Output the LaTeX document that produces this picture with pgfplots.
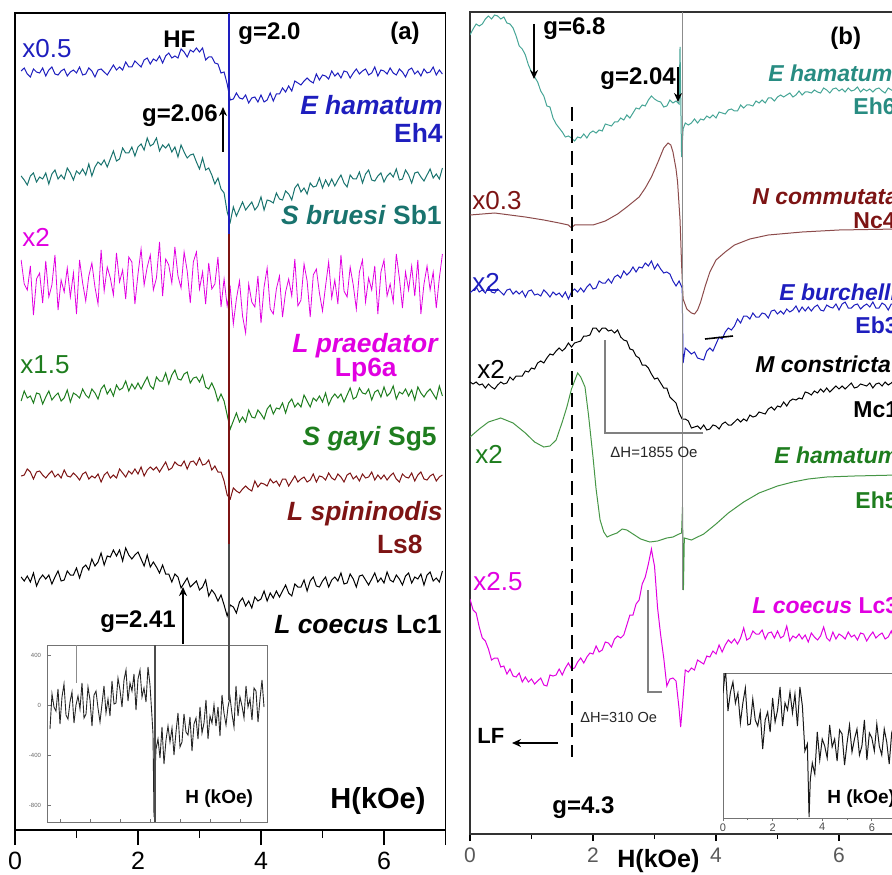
\documentclass[border=0pt]{standalone}
\usepackage{pgfplots}
\pgfplotsset{compat=1.18}
\usepackage{fontspec}
\setmainfont{Liberation Sans}
\usetikzlibrary{arrows.meta}
\definecolor{cblue}{RGB}{30,30,190}
\definecolor{cteal}{RGB}{25,115,110}
\definecolor{cteal2}{RGB}{70,165,150}
\definecolor{ctealL}{RGB}{40,140,130}
\definecolor{cmag}{RGB}{225,0,225}
\definecolor{cgreen}{RGB}{30,125,30}
\definecolor{cgreen2}{RGB}{70,150,70}
\definecolor{cdred}{RGB}{125,20,20}
\definecolor{cbrown}{RGB}{140,75,75}
\newcommand{\fs}[1]{\fontsize{#1}{#1}\selectfont}
\pgfplotsset{
 panel/.style={anchor=south west, scale only axis, width=215.25pt, xmin=0, xmax=140,
  ytick=\empty, xtick pos=left, tick align=outside,
  minor xtick={20,60,100}, every tick/.style={black, line width=0.8pt}},
 tr/.style={line width=0.5pt, mark=none}
}
\tikzset{lspA/.style={inner sep=0pt, font=\fs{13.2}\bfseries\itshape},
         lidA/.style={inner sep=0pt, font=\fs{13.2}\bfseries},
         lspB/.style={inner sep=0pt, font=\fs{11.5}\bfseries\itshape},
         lidB/.style={inner sep=0pt, font=\fs{11.5}\bfseries},
         lmul/.style={inner sep=0pt, font=\fs{13}},
         lgl/.style={inner sep=0pt, font=\fs{12}\bfseries},
         larr/.style={line width=0.9pt, -{Stealth[length=4.5pt,width=4pt]}}}
\begin{document}
\begin{tikzpicture}
\useasboundingbox (0,0) rectangle (446pt,437pt);
\clip (0,0) rectangle (446pt,437pt);
% ---------------- panel (a)
\begin{axis}[panel, at={(7.5pt,22pt)}, height=408.5pt, ymin=44, ymax=861,
  axis line style={line width=0.8pt},
  xtick={0,40,80,120,140}, xticklabels={0,2,4,6,{}},
  major tick length=7.5pt, minor tick length=4pt,
  xticklabel style={font=\fs{12.5}}]
\addplot[tr, cblue] coordinates {(2,803)(3,806)(4,800)(5,797)(6,805)(7,802)(8,801)(9,806)(10,798)(11,804)(12,807)(13,800)(14,799)(15,803)(16,805)(17,798)(18,802)(19,804)(20,801)(21,807)(22,799)(23,800)(24,806)(25,803)(26,797)(27,804)(28,805)(29,802)(30,799)(31,804)(32,809)(33,804)(34,807)(35,804)(36,812)(37,807)(38,807)(39,813)(40,810)(41,807)(42,814)(43,816)(44,810)(45,815)(46,813)(47,818)(48,811)(49,818)(50,821)(51,816)(52,818)(53,816)(54,825)(55,822)(56,817)(57,824)(58,822)(59,826)(60,822)(61,826)(62,814)(63,817)(64,817)(65,811)(66,810)(67,801)(68,802)(69,790)(70,774)(71,775)(72,781)(73,776)(74,775)(75,779)(76,771)(77,776)(78,777)(79,772)(80,779)(81,772)(82,774)(83,781)(84,773)(85,780)(86,780)(87,786)(88,782)(89,788)(90,783)(91,793)(92,791)(93,789)(94,793)(95,796)(96,793)(97,791)(98,800)(99,794)(100,799)(101,798)(102,795)(103,803)(104,798)(105,801)(106,796)(107,803)(108,802)(109,796)(110,801)(111,805)(112,800)(113,803)(114,805)(115,799)(116,801)(117,807)(118,798)(119,804)(120,803)(121,800)(122,806)(123,801)(124,799)(125,805)(126,802)(127,797)(128,804)(129,806)(130,800)(131,803)(132,798)(133,805)(134,801)(135,802)(136,807)(137,799)(138,804)(139,800)};
\addplot[tr, cteal] coordinates {(2,698)(3,694)(4,689)(5,698)(6,701)(7,692)(8,697)(9,695)(10,701)(11,690)(12,700)(13,704)(14,695)(15,699)(16,695)(17,706)(18,701)(19,694)(20,703)(21,700)(22,705)(23,699)(24,710)(25,698)(26,707)(27,712)(28,709)(29,714)(30,707)(31,715)(32,723)(33,713)(34,715)(35,726)(36,721)(37,721)(38,727)(39,718)(40,727)(41,730)(42,724)(43,736)(44,728)(45,730)(46,736)(47,723)(48,729)(49,726)(50,730)(51,722)(52,727)(53,717)(54,729)(55,722)(56,716)(57,719)(58,720)(59,712)(60,705)(61,716)(62,704)(63,706)(64,699)(65,690)(66,696)(67,685)(68,681)(69,662)(70,652)(71,667)(72,658)(73,665)(74,672)(75,664)(76,668)(77,672)(78,664)(79,668)(80,677)(81,664)(82,674)(83,673)(84,671)(85,681)(86,675)(87,674)(88,683)(89,680)(90,674)(91,686)(92,690)(93,682)(94,686)(95,680)(96,691)(97,687)(98,688)(99,696)(100,686)(101,694)(102,688)(103,695)(104,688)(105,694)(106,699)(107,691)(108,687)(109,699)(110,695)(111,695)(112,702)(113,691)(114,700)(115,704)(116,694)(117,693)(118,698)(119,701)(120,692)(121,698)(122,701)(123,697)(124,705)(125,694)(126,695)(127,704)(128,699)(129,691)(130,701)(131,702)(132,697)(133,693)(134,699)(135,705)(136,696)(137,700)(138,695)(139,706)};
\addplot[line width=0.4pt, cmag] coordinates {(2,614)(3,590)(4,584)(5,608)(6,559)(7,595)(8,601)(9,571)(10,613)(11,577)(12,589)(13,619)(14,564)(15,594)(16,582)(17,606)(18,577)(19,601)(20,560)(21,614)(22,591)(23,573)(24,598)(25,611)(26,587)(27,570)(28,624)(29,583)(30,607)(31,596)(32,579)(33,621)(34,592)(35,604)(36,575)(37,617)(38,612)(39,570)(40,600)(41,625)(42,589)(43,607)(44,619)(45,584)(46,596)(47,632)(48,578)(49,615)(50,609)(51,591)(52,627)(53,598)(54,586)(55,622)(56,603)(57,571)(58,612)(59,622)(60,585)(61,602)(62,570)(63,611)(64,585)(65,590)(66,617)(67,567)(68,595)(69,568)(70,586)(71,550)(72,575)(73,593)(74,558)(75,541)(76,590)(77,572)(78,567)(79,598)(80,551)(81,587)(82,606)(83,565)(84,560)(85,585)(86,598)(87,557)(88,582)(89,595)(90,578)(91,615)(92,568)(93,574)(94,610)(95,593)(96,557)(97,599)(98,605)(99,581)(100,563)(101,588)(102,612)(103,576)(104,594)(105,570)(106,619)(107,583)(108,577)(109,607)(110,589)(111,565)(112,602)(113,614)(114,572)(115,596)(116,584)(117,608)(118,560)(119,602)(120,614)(121,578)(122,590)(123,572)(124,620)(125,596)(126,566)(127,602)(128,584)(129,608)(130,578)(131,614)(132,560)(133,590)(134,608)(135,584)(136,602)(137,566)(138,596)(139,620)};
\addplot[tr, cgreen] coordinates {(2,473)(3,483)(4,476)(5,478)(6,471)(7,481)(8,480)(9,470)(10,477)(11,483)(12,474)(13,478)(14,481)(15,473)(16,476)(17,484)(18,472)(19,481)(20,479)(21,476)(22,485)(23,479)(24,476)(25,485)(26,481)(27,475)(28,485)(29,489)(30,480)(31,485)(32,478)(33,489)(34,484)(35,486)(36,493)(37,483)(38,490)(39,485)(40,491)(41,485)(42,491)(43,497)(44,488)(45,485)(46,497)(47,493)(48,493)(49,501)(50,490)(51,499)(52,504)(53,495)(54,494)(55,500)(56,502)(57,491)(58,496)(59,497)(60,492)(61,499)(62,487)(63,485)(64,491)(65,484)(66,473)(67,480)(68,473)(69,459)(70,445)(71,453)(72,461)(73,452)(74,457)(75,452)(76,464)(77,457)(78,456)(79,464)(80,460)(81,455)(82,465)(83,469)(84,460)(85,466)(86,465)(87,471)(88,461)(89,471)(90,475)(91,467)(92,471)(93,467)(94,479)(95,473)(96,467)(97,476)(98,473)(99,478)(100,472)(101,481)(102,469)(103,476)(104,480)(105,476)(106,480)(107,472)(108,479)(109,486)(110,475)(111,477)(112,486)(113,481)(114,480)(115,485)(116,474)(117,482)(118,484)(119,477)(120,487)(121,478)(122,481)(123,488)(124,475)(125,482)(126,480)(127,485)(128,478)(129,484)(130,474)(131,487)(132,481)(133,477)(134,482)(135,485)(136,480)(137,475)(138,488)(139,478)};
\addplot[tr, cdred] coordinates {(2,398)(3,399)(4,405)(5,402)(6,395)(7,402)(8,403)(9,399)(10,396)(11,400)(12,403)(13,397)(14,400)(15,396)(16,404)(17,398)(18,397)(19,401)(20,398)(21,394)(22,400)(23,402)(24,395)(25,398)(26,396)(27,400)(28,392)(29,399)(30,402)(31,396)(32,399)(33,396)(34,405)(35,401)(36,397)(37,403)(38,400)(39,405)(40,400)(41,407)(42,398)(43,404)(44,407)(45,404)(46,407)(47,402)(48,407)(49,412)(50,404)(51,406)(52,412)(53,409)(54,408)(55,413)(56,405)(57,412)(58,413)(59,409)(60,416)(61,409)(62,410)(63,414)(64,404)(65,408)(66,402)(67,402)(68,393)(69,379)(70,375)(71,386)(72,383)(73,381)(74,385)(75,388)(76,385)(77,383)(78,393)(79,387)(80,391)(81,390)(82,388)(83,395)(84,391)(85,393)(86,388)(87,395)(88,395)(89,388)(90,393)(91,398)(92,392)(93,395)(94,397)(95,392)(96,394)(97,400)(98,392)(99,398)(100,397)(101,394)(102,401)(103,396)(104,394)(105,400)(106,397)(107,392)(108,399)(109,401)(110,395)(111,398)(112,393)(113,400)(114,396)(115,397)(116,402)(117,394)(118,399)(119,395)(120,399)(121,394)(122,398)(123,401)(124,395)(125,392)(126,400)(127,397)(128,396)(129,401)(130,393)(131,399)(132,402)(133,395)(134,394)(135,398)(136,400)(137,393)(138,397)(139,399)};
\addplot[tr, black] coordinates {(2,297)(3,293)(4,298)(5,292)(6,301)(7,288)(8,295)(9,299)(10,295)(11,299)(12,290)(13,297)(14,303)(15,293)(16,294)(17,303)(18,299)(19,299)(20,306)(21,296)(22,306)(23,309)(24,304)(25,315)(26,308)(27,312)(28,321)(29,309)(30,318)(31,317)(32,324)(33,318)(34,324)(35,313)(36,326)(37,319)(38,315)(39,319)(40,322)(41,315)(42,308)(43,319)(44,307)(45,312)(46,307)(47,301)(48,309)(49,300)(50,300)(51,292)(52,300)(53,297)(54,286)(55,291)(56,296)(57,287)(58,290)(59,293)(60,284)(61,287)(62,294)(63,278)(64,284)(65,280)(66,273)(67,279)(68,269)(69,258)(70,269)(71,267)(72,261)(73,272)(74,276)(75,268)(76,273)(77,266)(78,277)(79,273)(80,275)(81,283)(82,273)(83,281)(84,276)(85,283)(86,277)(87,283)(88,289)(89,281)(90,278)(91,290)(92,287)(93,287)(94,294)(95,283)(96,293)(97,297)(98,288)(99,287)(100,293)(101,297)(102,287)(103,294)(104,297)(105,293)(106,301)(107,290)(108,291)(109,300)(110,295)(111,287)(112,298)(113,299)(114,294)(115,289)(116,295)(117,301)(118,292)(119,296)(120,291)(121,302)(122,294)(123,292)(124,299)(125,295)(126,289)(127,298)(128,301)(129,291)(130,297)(131,295)(132,300)(133,289)(134,299)(135,302)(136,293)(137,296)(138,292)(139,303)};
\end{axis}
% ---------------- inset (a)
\begin{axis}[at={(24pt,26pt)}, anchor=south west, scale only axis, width=109.5pt, height=88.5pt,
  xmin=48, xmax=267, ymin=52, ymax=229, axis line style={black!55, line width=0.5pt},
  axis background/.style={fill=white},
  xtick={60,90,...,240}, xticklabels={}, ytick={69,119,169,219}, yticklabels={-800,-400,0,400},
  yticklabel style={font=\fs{3}, text=black!60}, tick align=inside, major tick length=1.5pt,
  every tick/.style={black!55}, xtick pos=left, ytick pos=left]
\addplot[line width=0.45pt, black!85] coordinates {(50,145)(52,180)(54,167)(56,163)(58,185)(60,150)(62,177)(64,190)(66,159)(68,155)(70,172)(72,182)(74,151)(76,169)(78,178)(80,165)(82,191)(84,156)(86,160)(88,187)(90,174)(92,148)(94,179)(96,183)(98,166)(100,152)(102,170)(104,188)(106,161)(108,175)(110,158)(112,193)(114,170)(116,171)(118,196)(120,184)(122,167)(124,194)(126,204)(128,173)(130,191)(132,183)(134,200)(136,164)(138,195)(140,204)(142,177)(144,186)(146,172)(148,207)(150,189)(152,157)(153,140)(154,57)(155,100)(156,125)(158,135)(160,116)(162,147)(164,110)(166,134)(168,148)(170,132)(172,146)(174,119)(176,142)(178,161)(180,127)(182,132)(184,160)(186,142)(188,139)(190,157)(192,123)(194,150)(196,156)(198,135)(200,167)(202,141)(204,151)(206,174)(208,135)(210,158)(212,151)(214,169)(216,148)(218,167)(220,138)(222,179)(224,161)(226,149)(228,167)(230,177)(232,160)(234,147)(236,188)(238,158)(240,177)(242,168)(244,156)(246,188)(248,167)(250,175)(252,154)(254,186)(256,183)(258,152)(260,175)(262,194)(264,167)};
\end{axis}
% ---------------- panel (b)
\begin{axis}[panel, at={(235pt,20pt)}, height=411pt, ymin=40, ymax=862,
  axis line style={line width=0.8pt, black!80},
  xtick={0,40,80,120}, xticklabels={0,2,4,6},
  major tick length=3.5pt, minor tick length=2.5pt,
  xticklabel style={font=\fs{10.5}, text=black!65}]
\addplot[tr, cteal2] coordinates {(0,839)(1,845)(2,850)(3,848)(4,850)(5,855)(6,858)(7,855)(8,859)(9,858)(10,855)(11,857)(12,851)(13,850)(14,846)(15,838)(16,828)(17,825)(18,819)(19,809)(20,802)(21,797)(22,792)(23,783)(24,778)(25,768)(26,767)(27,756)(28,750)(29,746)(30,742)(31,737)(32,738)(33,736)(34,733)(35,737)(36,736)(37,740)(38,736)(39,741)(40,743)(41,741)(42,744)(43,743)(44,750)(45,749)(46,748)(47,752)(48,752)(49,756)(50,754)(51,759)(52,756)(53,761)(54,766)(55,765)(56,769)(57,768)(58,774)(59,778)(60,775)(61,773)(62,772)(63,767)(64,768)(65,774)(66,771)(67,773)(68,770)(68.3,827)(68.8,717)(69.3,745)(70,751)(71,749)(72,751)(73,755)(74,751)(75,755)(76,754)(77,758)(78,756)(79,759)(80,756)(81,762)(82,761)(83,760)(84,764)(85,765)(86,763)(87,763)(88,769)(89,766)(90,769)(91,769)(92,768)(93,773)(94,771)(95,774)(96,771)(97,776)(98,776)(99,773)(100,777)(101,779)(102,777)(103,779)(104,781)(105,777)(106,779)(107,783)(108,779)(109,782)(110,782)(111,781)(112,784)(113,782)(114,781)(115,786)(116,784)(117,781)(118,785)(119,786)(120,783)(121,785)(122,782)(123,786)(124,783)(125,784)(126,787)(127,782)(128,785)(129,783)(130,785)(131,782)(132,785)(133,786)(134,783)(135,781)(136,786)(137,784)(138,783)(139,786)};
\addplot[tr, cbrown] coordinates {(0,659)(4,660)(8,661)(13,659)(18,657)(24,654)(29,651)(32,649)(33,646)(34,649)(37,649)(40,649)(44,653)(48,660)(51,667)(55,677)(57,686)(59,697)(61,711)(63,726)(64.4,731)(65.3,729)(66,722)(67,705)(67.5,692)(68.3,654)(68.8,610)(69.3,575)(70.5,565)(72,561)(73,560)(74,564)(75,572)(76.5,588)(78,602)(80,614)(83,622)(86,629)(91,635)(97,639)(108,642)(120,644)(139,645)};
\addplot[tr, cblue] coordinates {(0,581)(1,584)(2,587)(3,582)(4,584)(5,581)(6,587)(7,582)(8,581)(9,585)(10,582)(11,579)(12,584)(13,585)(14,580)(15,583)(16,580)(17,583)(18,577)(19,583)(20,584)(21,579)(22,580)(23,578)(24,584)(25,581)(26,577)(27,582)(28,579)(29,581)(30,577)(31,582)(32,575)(33,582)(34,585)(35,582)(36,586)(37,582)(38,587)(39,590)(40,585)(41,586)(42,593)(43,591)(44,591)(45,595)(46,591)(47,597)(48,599)(49,596)(50,603)(51,599)(52,602)(53,607)(54,602)(55,607)(56,606)(57,611)(58,608)(59,613)(60,605)(61,610)(62,605)(63,601)(64,602)(65,600)(66,593)(67,588)(68,593)(69,586)(69.3,511)(70,526)(71,523)(72,520)(73,522)(74,516)(75,515)(76,514)(77,523)(78,526)(79,523)(80,530)(81,537)(82,535)(83,542)(84,546)(85,544)(86,548)(87,555)(88,551)(89,558)(90,558)(91,555)(92,561)(93,557)(94,557)(95,561)(96,560)(97,556)(98,563)(99,564)(100,560)(101,563)(102,560)(103,565)(104,562)(105,564)(106,568)(107,562)(108,567)(109,563)(110,567)(111,563)(112,567)(113,569)(114,564)(115,563)(116,569)(117,567)(118,566)(119,570)(120,564)(121,570)(122,572)(123,566)(124,566)(125,569)(126,570)(127,565)(128,568)(129,570)(130,567)(131,572)(132,566)(133,566)(134,571)(135,569)(136,564)(137,570)(138,570)(139,567)};
\addplot[tr, black] coordinates {(0,492)(1,490)(2,492)(3,489)(4,490)(5,486)(6,490)(7,487)(8,485)(9,489)(10,492)(11,490)(12,491)(13,497)(14,494)(15,498)(16,498)(17,498)(18,503)(19,502)(20,506)(21,505)(22,511)(23,513)(24,511)(25,516)(26,520)(27,519)(28,523)(29,526)(30,523)(31,526)(32,531)(33,527)(34,531)(35,532)(36,533)(37,538)(38,538)(39,539)(40,546)(41,546)(42,542)(43,546)(44,546)(45,543)(46,544)(47,541)(48,544)(49,537)(50,534)(51,533)(52,525)(53,524)(54,518)(55,516)(56,509)(57,509)(58,506)(59,500)(60,495)(61,496)(62,491)(63,486)(64,486)(65,477)(66,474)(67,471)(68,461)(69,455)(70,455)(71,453)(72,446)(73,447)(74,448)(75,445)(76,449)(77,444)(78,445)(79,449)(80,448)(81,445)(82,450)(83,452)(84,449)(85,449)(86,452)(87,455)(88,452)(89,455)(90,453)(91,459)(92,457)(93,458)(94,462)(95,461)(96,460)(97,465)(98,467)(99,464)(100,468)(101,467)(102,472)(103,468)(104,473)(105,475)(106,474)(107,476)(108,475)(109,482)(110,481)(111,479)(112,483)(113,481)(114,485)(115,482)(116,486)(117,482)(118,485)(119,488)(120,485)(121,488)(122,485)(123,488)(124,491)(125,486)(126,487)(127,490)(128,489)(129,488)(130,491)(131,486)(132,490)(133,491)(134,488)(135,492)(136,489)(137,491)(138,494)(139,489)};
\addplot[tr, cgreen2] coordinates {(0,437)(3,445)(6,452)(10,456)(14,451)(18,441)(21,432)(24,427)(26,428)(28,434)(30,452)(31.5,467)(33,485)(35,501)(36,497)(37.4,487)(38.5,460)(40,417)(41,385)(42.3,354)(43.5,342)(44.6,337)(46,339)(47.8,341)(49.5,345)(51,344)(53,340)(55.5,335)(58.5,332)(61,333)(64,336)(66,337)(68,340)(68.8,341)(69.1,367)(69.4,284)(69.7,336)(72,334)(76,340)(80,350)(84,361)(89,372)(94,381)(100,388)(105,392)(110,395)(116,397)(125,398)(139,399)};
\addplot[tr, cmag] coordinates {(0,275)(1,264)(2,261)(3,247)(4,236)(5,233)(6,225)(7,214)(8,216)(9,216)(10,207)(11,208)(12,200)(13,205)(14,198)(15,197)(16,201)(17,192)(18,197)(19,192)(20,195)(21,190)(22,193)(23,196)(24,189)(25,188)(26,199)(27,198)(28,199)(29,205)(30,199)(31,206)(32,211)(33,205)(34,206)(35,212)(36,216)(37,211)(38,217)(39,221)(40,220)(41,228)(42,222)(43,224)(44,232)(45,231)(46,227)(47,235)(48,238)(49,236)(50,239)(51,249)(52,259)(53,259)(54,270)(55,274)(56,290)(57,297)(58,310)(59,325)(59.5,316)(60,308)(61,266)(62,239)(63,216)(64,188)(65,195)(66,196)(67,193)(68,165)(68.5,147)(69,165)(70,204)(71,202)(72,206)(73,204)(74,214)(75,212)(76,210)(77,218)(78,217)(79,223)(80,220)(81,229)(82,222)(83,229)(84,234)(85,231)(86,235)(87,230)(88,236)(89,246)(90,234)(91,236)(92,243)(93,240)(94,240)(95,244)(96,235)(97,241)(98,242)(99,236)(100,243)(101,236)(102,238)(103,248)(104,233)(105,238)(106,236)(107,240)(108,235)(109,239)(110,232)(111,241)(112,237)(113,234)(114,238)(115,247)(116,236)(117,233)(118,242)(119,235)(120,240)(121,238)(122,235)(123,242)(124,237)(125,239)(126,234)(127,241)(128,240)(129,233)(130,238)(131,242)(132,236)(133,239)(134,241)(135,235)(136,237)(137,243)(138,234)(139,240)};
\end{axis}
% ---------------- inset (b)
\begin{axis}[at={(361.5pt,28pt)}, anchor=south west, scale only axis, width=89.3pt, height=72.5pt,
  xmin=0, xmax=72, ymin=56, ymax=201, axis line style={black!55, line width=0.5pt},
  axis background/.style={fill=white},
  xtick={0,20,40,60}, xticklabels={0,2,4,6}, minor xtick={10,30,50,70}, ytick=\empty,
  xtick pos=left, tick align=outside, major tick length=1.5pt, minor tick length=1pt,
  every tick/.style={black!55},
  xticklabel style={font=\fs{5.5}, text=black!70, inner sep=1pt}]
\addplot[line width=0.5pt, black!90] coordinates {(0,181)(1,205)(2,163)(3,182)(4,192)(5,171)(6,181)(7,151)(8,171)(9,186)(10,149)(11,150)(12,175)(13,154)(14,148)(15,162)(16,125)(17,154)(18,162)(19,142)(20,176)(21,152)(22,164)(23,187)(24,148)(25,171)(26,164)(27,182)(28,161)(29,180)(30,148)(31,187)(32,168)(33,123)(34,130)(34.7,57)(35.2,95)(36,111)(37,100)(38,142)(39,114)(40,135)(41,128)(42,116)(43,149)(44,127)(45,135)(46,113)(47,144)(48,140)(49,109)(50,131)(51,149)(52,122)(53,135)(54,145)(55,119)(56,128)(57,154)(58,114)(59,141)(60,136)(61,123)(62,150)(63,128)(64,119)(65,145)(66,132)(67,110)(68,141)(69,150)(70,123)};
\end{axis}
% ---------------- annotations (pixel units, y measured from the bottom)
\begin{scope}[x=0.5pt,y=0.5pt]
% panel (a) lines
\draw[cblue, line width=0.6pt] (229,861) -- (229,640);
\draw[cdred, line width=0.6pt] (229,640) -- (229,330);
\draw[black!70, line width=0.6pt] (229,330) -- (229,174);
\draw[black!45, line width=0.5pt] (76,229) -- (76,191);
\draw[black!70, line width=0.6pt] (155,229) -- (155,52);
% panel (a) text
\node[lmul, anchor=base west, text=cblue] at (22,816) {x0.5};
\node[lgl, anchor=base west] at (163,826) {HF};
\node[lgl, anchor=base west] at (238,834) {g=2.0};
\node[lgl, anchor=base west] at (390,834) {(a)};
\node[lgl, anchor=base east] at (218,752) {g=2.06};
\draw[larr] (223,722) -- (223,767);
\node[lspA, anchor=base east, text=cblue] at (443,759) {E hamatum};
\node[lidA, anchor=base east, text=cblue] at (443,731) {Eh4};
\node[lidA, anchor=base east, text=cteal] at (442,649) {\textit{S bruesi} Sb1};
\node[lmul, anchor=base west, text=cmag] at (22,627) {x2};
\node[lspA, anchor=base east, text=cmag] at (438,522) {L praedator};
\node[lidA, anchor=base east, text=cmag] at (397,498) {Lp6a};
\node[lmul, anchor=base west, text=cgreen] at (20,501) {x1.5};
\node[lidA, anchor=base east, text=cgreen] at (437,429) {\textit{S gayi} Sg5};
\node[lspA, anchor=base east, text=cdred] at (443,354) {L spininodis};
\node[lidA, anchor=base east, text=cdred] at (423,321) {Ls8};
\node[lidA, anchor=base east] at (442,241) {\textit{L coecus} Lc1};
\node[lgl, anchor=base west] at (100,247) {g=2.41};
\draw[larr] (183,230) -- (183,287);
\node[inner sep=0pt, anchor=base west, font=\fs{14.5}\bfseries] at (330,66) {H(kOe)};
\node[inner sep=0pt, anchor=base west, font=\fs{9.5}\bfseries] at (185,71) {H (kOe)};
% panel (b) lines
\draw[black!45, line width=0.5pt] (682.5,862) -- (682.5,284);
\draw[black, line width=1.3pt, dash pattern=on 7pt off 4pt] (572,767) -- (572,117);
\draw[black!50, line width=0.7pt] (605,534) -- (605,441) -- (703,441);
\draw[black!50, line width=0.7pt] (648,284) -- (648,182) -- (662,182);
\draw[black, line width=0.8pt] (705,535) -- (733,538);
% panel (b) text
\node[lgl, anchor=base west] at (543,839) {g=6.8};
\draw[larr] (534,850) -- (534,795);
\node[lgl, anchor=base west] at (600,789) {g=2.04};
\draw[larr] (678,807) -- (678,772);
\node[lgl, anchor=base west] at (830,829) {(b)};
\node[lspB, anchor=base west, text=ctealL] at (768,792) {E hamatum};
\node[lidB, anchor=base west, text=ctealL] at (853,759) {Eh6};
\node[lspB, anchor=base west, text=cdred] at (752,669) {N commutata};
\node[lidB, anchor=base west, text=cdred] at (853,645) {Nc4};
\node[lspB, anchor=base west, text=cblue] at (779,574) {E burchelli};
\node[lidB, anchor=base west, text=cblue] at (855,541) {Eb3};
\node[lspB, anchor=base west] at (755,502) {M constricta};
\node[lidB, anchor=base west] at (853,457) {Mc1};
\node[lspB, anchor=base west, text=cgreen] at (774,411) {E hamatum};
\node[lidB, anchor=base west, text=cgreen] at (855,366) {Eh5};
\node[lidB, anchor=base west, text=cmag] at (752,261) {\textit{L coecus} Lc3};
\node[lmul, anchor=base west, text=cdred] at (472,664) {x0.3};
\node[lmul, anchor=base west, text=cblue] at (472,582) {x2};
\node[lmul, anchor=base west] at (477,496) {x2};
\node[lmul, anchor=base west, text=cgreen] at (475,411) {x2};
\node[lmul, anchor=base west, text=cmag] at (473,284) {x2.5};
\node[inner sep=0pt, anchor=base west, font=\fs{7.5}, text=black!85] at (610,417) {ΔH=1855 Oe};
\node[inner sep=0pt, anchor=base west, font=\fs{7.3}, text=black!85] at (580,152) {ΔH=310 Oe};
\node[inner sep=0pt, anchor=base west, font=\fs{11}\bfseries] at (477,131) {LF};
\draw[larr, line width=0.8pt] (558,131) -- (512,131);
\node[lgl, anchor=base west] at (552,61) {g=4.3};
\node[inner sep=0pt, anchor=base west, font=\fs{12.5}\bfseries] at (617,7) {H(kOe)};
\node[inner sep=0pt, anchor=base west, font=\fs{9.5}\bfseries] at (827,71) {H (kOe)};
\end{scope}
\end{tikzpicture}
\end{document}
